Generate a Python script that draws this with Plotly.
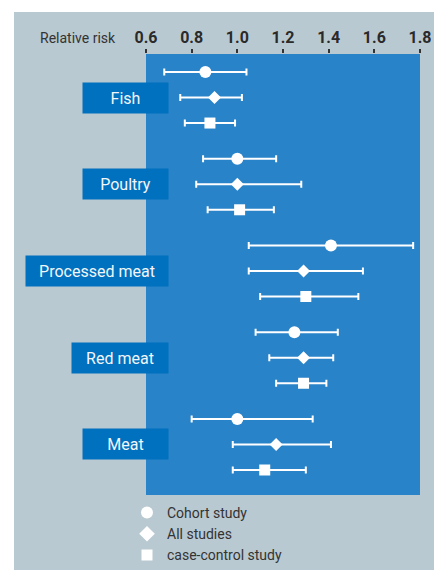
import plotly.graph_objects as go

# ---- data ----
groups = ["Fish", "Poultry", "Processed meat", "Red meat", "Meat"]

cohort_rr = [0.86, 1.00, 1.41, 1.25, 1.00]
cohort_lo = [0.68, 0.85, 1.05, 1.08, 0.80]
cohort_hi = [1.04, 1.17, 1.77, 1.44, 1.33]

all_rr = [0.90, 1.00, 1.29, 1.29, 1.17]
all_lo = [0.75, 0.82, 1.05, 1.14, 0.98]
all_hi = [1.02, 1.28, 1.55, 1.42, 1.41]

cc_rr = [0.88, 1.01, 1.30, 1.29, 1.12]
cc_lo = [0.77, 0.87, 1.10, 1.17, 0.98]
cc_hi = [0.99, 1.16, 1.53, 1.39, 1.30]

tick_vals = [0.6, 0.8, 1.0, 1.2, 1.4, 1.6, 1.8]
tick_text = ["0.6", "0.8", "1.0", "1.2", "1.4", "1.6", "1.8"]

series_names = ["Cohort study", "All studies", "case-control study"]

# ---- layout constants ----
W, H = 434, 570
ML, MR, MT, MB = 146, 14, 54, 75
PW, PH = W - ML - MR, H - MT - MB
GROUP_PITCH = 3.4

GRAY = "#b9c9d1"
PLOT_BLUE = "#2983c8"
BOX_BLUE = "#0071be"
TXT = "#333333"
FONT = "Roboto"


def px_x(p):
    return (p - ML) / PW


def px_y(p):
    return (H - MB - p) / PH


def rows(j):
    return [gi * GROUP_PITCH + j for gi in range(len(groups))]


fig = go.Figure()

series = [
    (cohort_rr, cohort_lo, cohort_hi, "circle", 12),
    (all_rr, all_lo, all_hi, "diamond", 10),
    (cc_rr, cc_lo, cc_hi, "square", 11),
]

for j, (rr, lo, hi, sym, size) in enumerate(series):
    fig.add_trace(go.Scatter(
        x=rr, y=rows(j), mode="markers",
        marker=dict(symbol=sym, size=size, color="white"),
        error_x=dict(type="data", symmetric=False,
                     array=[h - r for h, r in zip(hi, rr)],
                     arrayminus=[r - l for r, l in zip(rr, lo)],
                     color="white", thickness=2, width=3.5),
        showlegend=False, hoverinfo="skip"))
    # legend entry only
    fig.add_trace(go.Scatter(
        x=[None], y=[None], mode="markers", name=series_names[j],
        marker=dict(symbol=sym, size=size + (2 if sym == "diamond" else 0), color="white")))

# category boxes
box_w = [75, 75, 132, 86, 75]
for gi, g in enumerate(groups):
    fig.add_annotation(
        text=g, xref="paper", x=px_x(169), xanchor="right",
        yref="y", y=gi * GROUP_PITCH + 1, yanchor="middle",
        showarrow=False, bgcolor=BOX_BLUE, borderpad=5,
        width=box_w[gi], height=20, align="center",
        font=dict(family=FONT, size=16, color="#f2f6fa"))

fig.add_annotation(
    text="Relative risk", xref="paper", x=px_x(118), xanchor="right",
    yref="paper", y=px_y(38), yanchor="middle", showarrow=False,
    font=dict(family=FONT, size=14, color=TXT))

# white page edge around the gray panel
fig.add_shape(type="rect", xref="paper", yref="paper", layer="below",
              x0=px_x(-5), x1=px_x(14), y0=px_y(H + 5), y1=px_y(-5),
              fillcolor="white", line_width=0)
fig.add_shape(type="rect", xref="paper", yref="paper", layer="below",
              x0=px_x(-5), x1=px_x(W + 5), y0=px_y(12), y1=px_y(-5),
              fillcolor="white", line_width=0)

fig.update_layout(
    width=W, height=H, autosize=False,
    margin=dict(l=ML, r=MR, t=MT, b=MB, autoexpand=False),
    paper_bgcolor=GRAY, plot_bgcolor=PLOT_BLUE,
    font=dict(family=FONT, color=TXT),
    xaxis=dict(side="top", range=[0.6, 1.8], tickvals=tick_vals, ticktext=tick_text,
               ticks="outside", ticklen=4, tickwidth=2, tickcolor=TXT,
               tickfont=dict(family=FONT, size=16, color="#2a2a2a", weight="bold"),
               showgrid=False, zeroline=False, showline=False, fixedrange=True,
               automargin=False),
    yaxis=dict(range=[16.58, -0.706], visible=False, fixedrange=True, automargin=False),
    legend=dict(xref="container", yref="container",
                x=127 / W, y=1 - 497 / H, xanchor="left", yanchor="top",
                bgcolor="rgba(0,0,0,0)", itemwidth=30, tracegroupgap=0,
                font=dict(family=FONT, size=14, color=TXT)),
)

# drop the browser's default body margin so the figure sits at (0, 0)
fig.write_html("out.html", config={"displayModeBar": False},
               post_script="document.body.style.margin='0';")
